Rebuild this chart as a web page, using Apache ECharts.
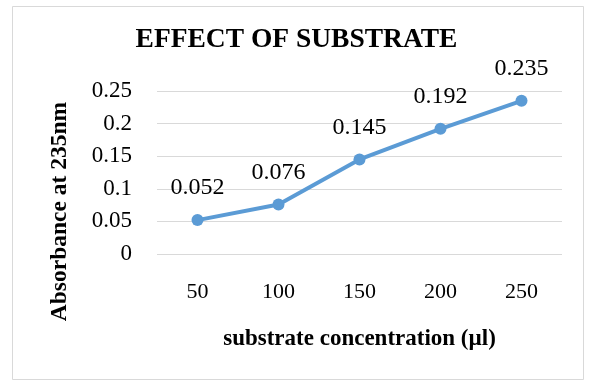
<!DOCTYPE html>
<html><head><meta charset="utf-8">
<script src="https://cdn.jsdelivr.net/npm/echarts@6/dist/echarts.min.js"></script>
<style>html,body{margin:0;padding:0;background:#fff}#c{width:593px;height:385px}</style>
</head><body><div id="c"></div>
<script>
const categories = ['50','100','150','200','250'];
const absorbance = [0.052, 0.076, 0.145, 0.192, 0.235];
const yTicks = [0, 0.05, 0.1, 0.15, 0.2, 0.25];
const titleText = 'EFFECT OF SUBSTRATE';
const xName = 'substrate concentration (µl)';
const yName = 'Absorbance at 235nm';

const chart = echarts.init(document.getElementById('c'));
const serif = '"Liberation Serif", "DejaVu Serif", serif';
chart.setOption({
  animation: false,
  backgroundColor: '#fff',
  graphic: [{type:'rect', shape:{x:12.5,y:6.5,width:571,height:373}, style:{fill:'none', stroke:'#d9d9d9', lineWidth:1}, z:-1}],
  title: {text: titleText, left: 'center', top: 26, padding: 0, textStyle:{fontFamily: serif, fontSize: 27.5, fontWeight:'bold', color:'#000'}},
  grid: {left: 157, right: 31, top: 91, bottom: 131},
  xAxis: {type:'category', data: categories, boundaryGap: true,
    name: xName, nameLocation:'middle', nameGap: 74,
    nameTextStyle:{fontFamily: serif, fontSize: 23, fontWeight:'bold', color:'#000'},
    axisLine:{show:false}, axisTick:{show:false},
    axisLabel:{fontFamily: serif, fontSize: 22, color:'#000', margin: 27}},
  yAxis: {type:'value', min: 0, max: yTicks[yTicks.length-1], interval: 0.05,
    name: yName, nameLocation:'middle', nameGap: 85, nameRotate: 90,
    nameTextStyle:{fontFamily: serif, fontSize: 23.5, fontWeight:'bold', color:'#000', padding:[0, 78, 0, 0]},
    axisLine:{show:false}, axisTick:{show:false},
    axisLabel:{fontFamily: serif, fontSize: 23, color:'#000', margin: 25, formatter: v => String(+v.toFixed(2))},
    splitLine:{lineStyle:{color:'#d9d9d9', width:1}}},
  series: [{type:'line', data: absorbance, symbol:'circle', symbolSize: 12,
    lineStyle:{color:'#5b9bd5', width:4}, itemStyle:{color:'#5b9bd5'},
    label:{show:true, position:'top', distance: 14, fontFamily: serif, fontSize: 24, color:'#000', formatter: p => String(p.value)}}]
});
</script></body></html>
